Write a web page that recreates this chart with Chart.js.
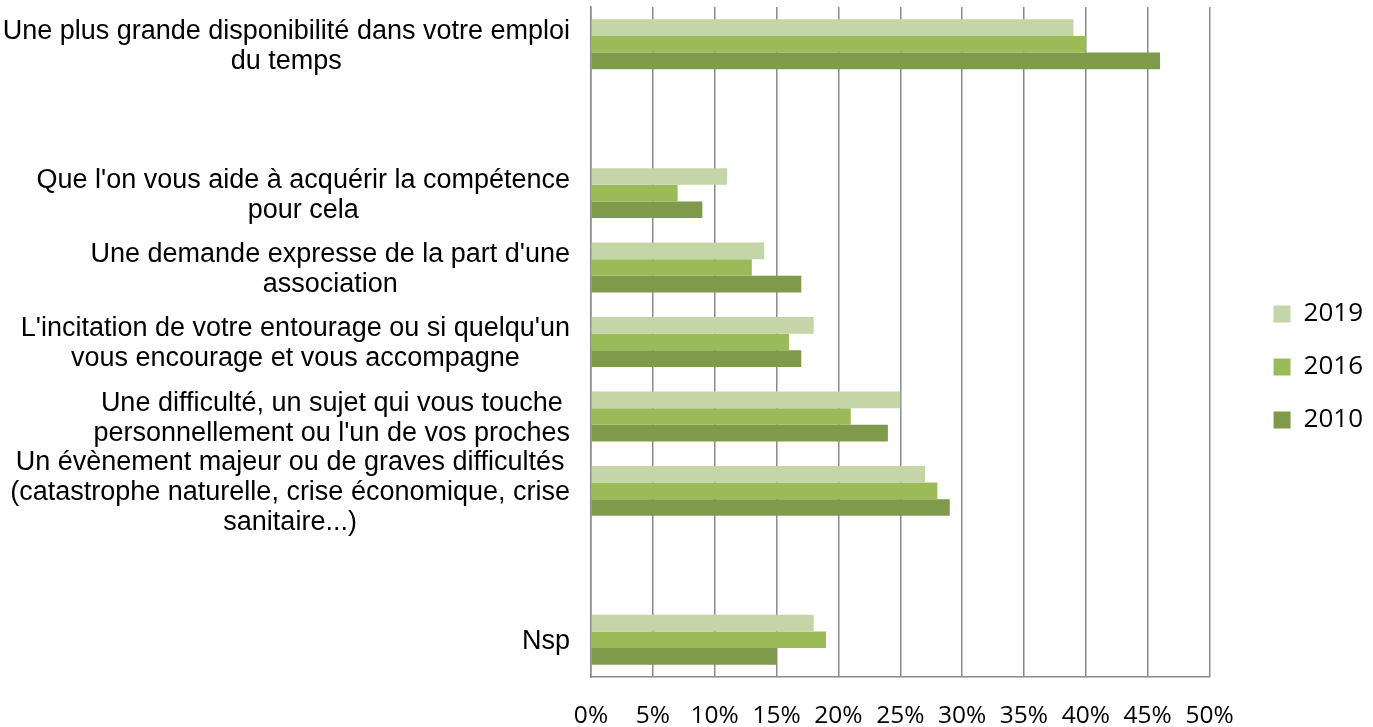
<!DOCTYPE html>
<html>
<head>
<meta charset="utf-8">
<script src="https://cdn.jsdelivr.net/npm/chart.js@4"></script>
<style>
html,body{margin:0;padding:0;background:#fff;}
#wrap{width:1373px;height:727px;position:relative;}
</style>
</head>
<body>
<div id="wrap"><canvas id="c" width="1373" height="727"></canvas></div>
<script>
const categories = [
  ["Une plus grande disponibilité dans votre emploi", "du temps"],
  [],
  ["Que l'on vous aide à acquérir la compétence", "pour cela"],
  ["Une demande expresse de la part d'une", "association"],
  ["L'incitation de votre entourage ou si quelqu'un", "vous encourage et vous accompagne"],
  ["Une difficulté, un sujet qui vous touche", "personnellement ou l'un de vos proches"],
  ["Un évènement majeur ou de graves difficultés", "(catastrophe naturelle, crise économique, crise", "sanitaire...)"],
  [],
  ["Nsp"]
];
const seriesNames = ["2019", "2016", "2010"];
const values2019 = [39, null, 11, 14, 18, 25, 27, null, 18];
const values2016 = [40, null, 7, 13, 16, 21, 28, null, 19];
const values2010 = [46, null, 9, 17, 17, 24, 29, null, 15];
const xTicks = [0, 5, 10, 15, 20, 25, 30, 35, 40, 45, 50];

const colors = ["#c4d6a7", "#9bbb59", "#7e9a4a"];
const gridColor = "#8a8a8a";

const yLabelPlugin = {
  id: 'yLabels',
  afterDraw(chart) {
    const y = chart.scales.y;
    const ctx = chart.ctx;
    ctx.save();
    ctx.font = '27px "Liberation Sans", Arial, sans-serif';
    ctx.fillStyle = '#000';
    ctx.textAlign = 'center';
    ctx.textBaseline = 'middle';
    const rightEdge = y.right - 21;
    const lh = 30;
    categories.forEach((lines, i) => {
      if (!lines.length) return;
      const cy = y.getPixelForValue(i);
      let maxW = 0;
      lines.forEach(l => { maxW = Math.max(maxW, ctx.measureText(l).width); });
      const cx = rightEdge - maxW / 2;
      lines.forEach((l, k) => {
        ctx.fillText(l, cx, cy + (k - (lines.length - 1) / 2) * lh + 2);
      });
    });
    ctx.restore();
  }
};

new Chart(document.getElementById('c'), {
  type: 'bar',
  data: {
    labels: categories.map((c, i) => c.length ? c : String(i)),
    datasets: [
      { label: seriesNames[0], data: values2019, backgroundColor: colors[0] },
      { label: seriesNames[1], data: values2016, backgroundColor: colors[1] },
      { label: seriesNames[2], data: values2010, backgroundColor: colors[2] }
    ]
  },
  options: {
    indexAxis: 'y',
    responsive: false,
    animation: false,
    devicePixelRatio: 1,
    categoryPercentage: 0.67,
    barPercentage: 1.0,
    layout: { padding: { top: 7, right: 0, left: 0, bottom: 0 } },
    plugins: {
      legend: {
        position: 'right',
        align: 'center',
        maxWidth: 128,
        labels: {
          boxWidth: 17,
          boxHeight: 17,
          padding: 27,
          textAlign: 'left',
          color: '#000',
          font: { family: '"Open Sans", sans-serif', size: 26 }
        }
      },
      tooltip: { enabled: false }
    },
    scales: {
      x: {
        type: 'linear',
        min: 0,
        max: 50,
        afterBuildTicks(s) { s.ticks = xTicks.map(v => ({ value: v })); },
        afterFit(s) { s.height = 50; },
        ticks: {
          callback: v => v + '%',
          color: '#000',
          padding: 24,
          font: { family: '"Open Sans", sans-serif', size: 24.5 },
          maxRotation: 0,
          autoSkip: false
        },
        grid: { color: gridColor, lineWidth: 1.5, drawTicks: false },
        border: { display: true, color: gridColor, width: 1.5 }
      },
      y: {
        type: 'category',
        ticks: { display: false },
        grid: { display: false },
        border: { display: true, color: gridColor, width: 1.5 },
        afterFit(s) { s.width = 591; }
      },
      spacer: {
        type: 'linear',
        position: 'right',
        axis: 'y',
        display: true,
        ticks: { display: false },
        grid: { display: false },
        border: { display: false },
        afterFit(s) { s.width = 37; }
      }
    }
  },
  plugins: [yLabelPlugin]
});
</script>
</body>
</html>
